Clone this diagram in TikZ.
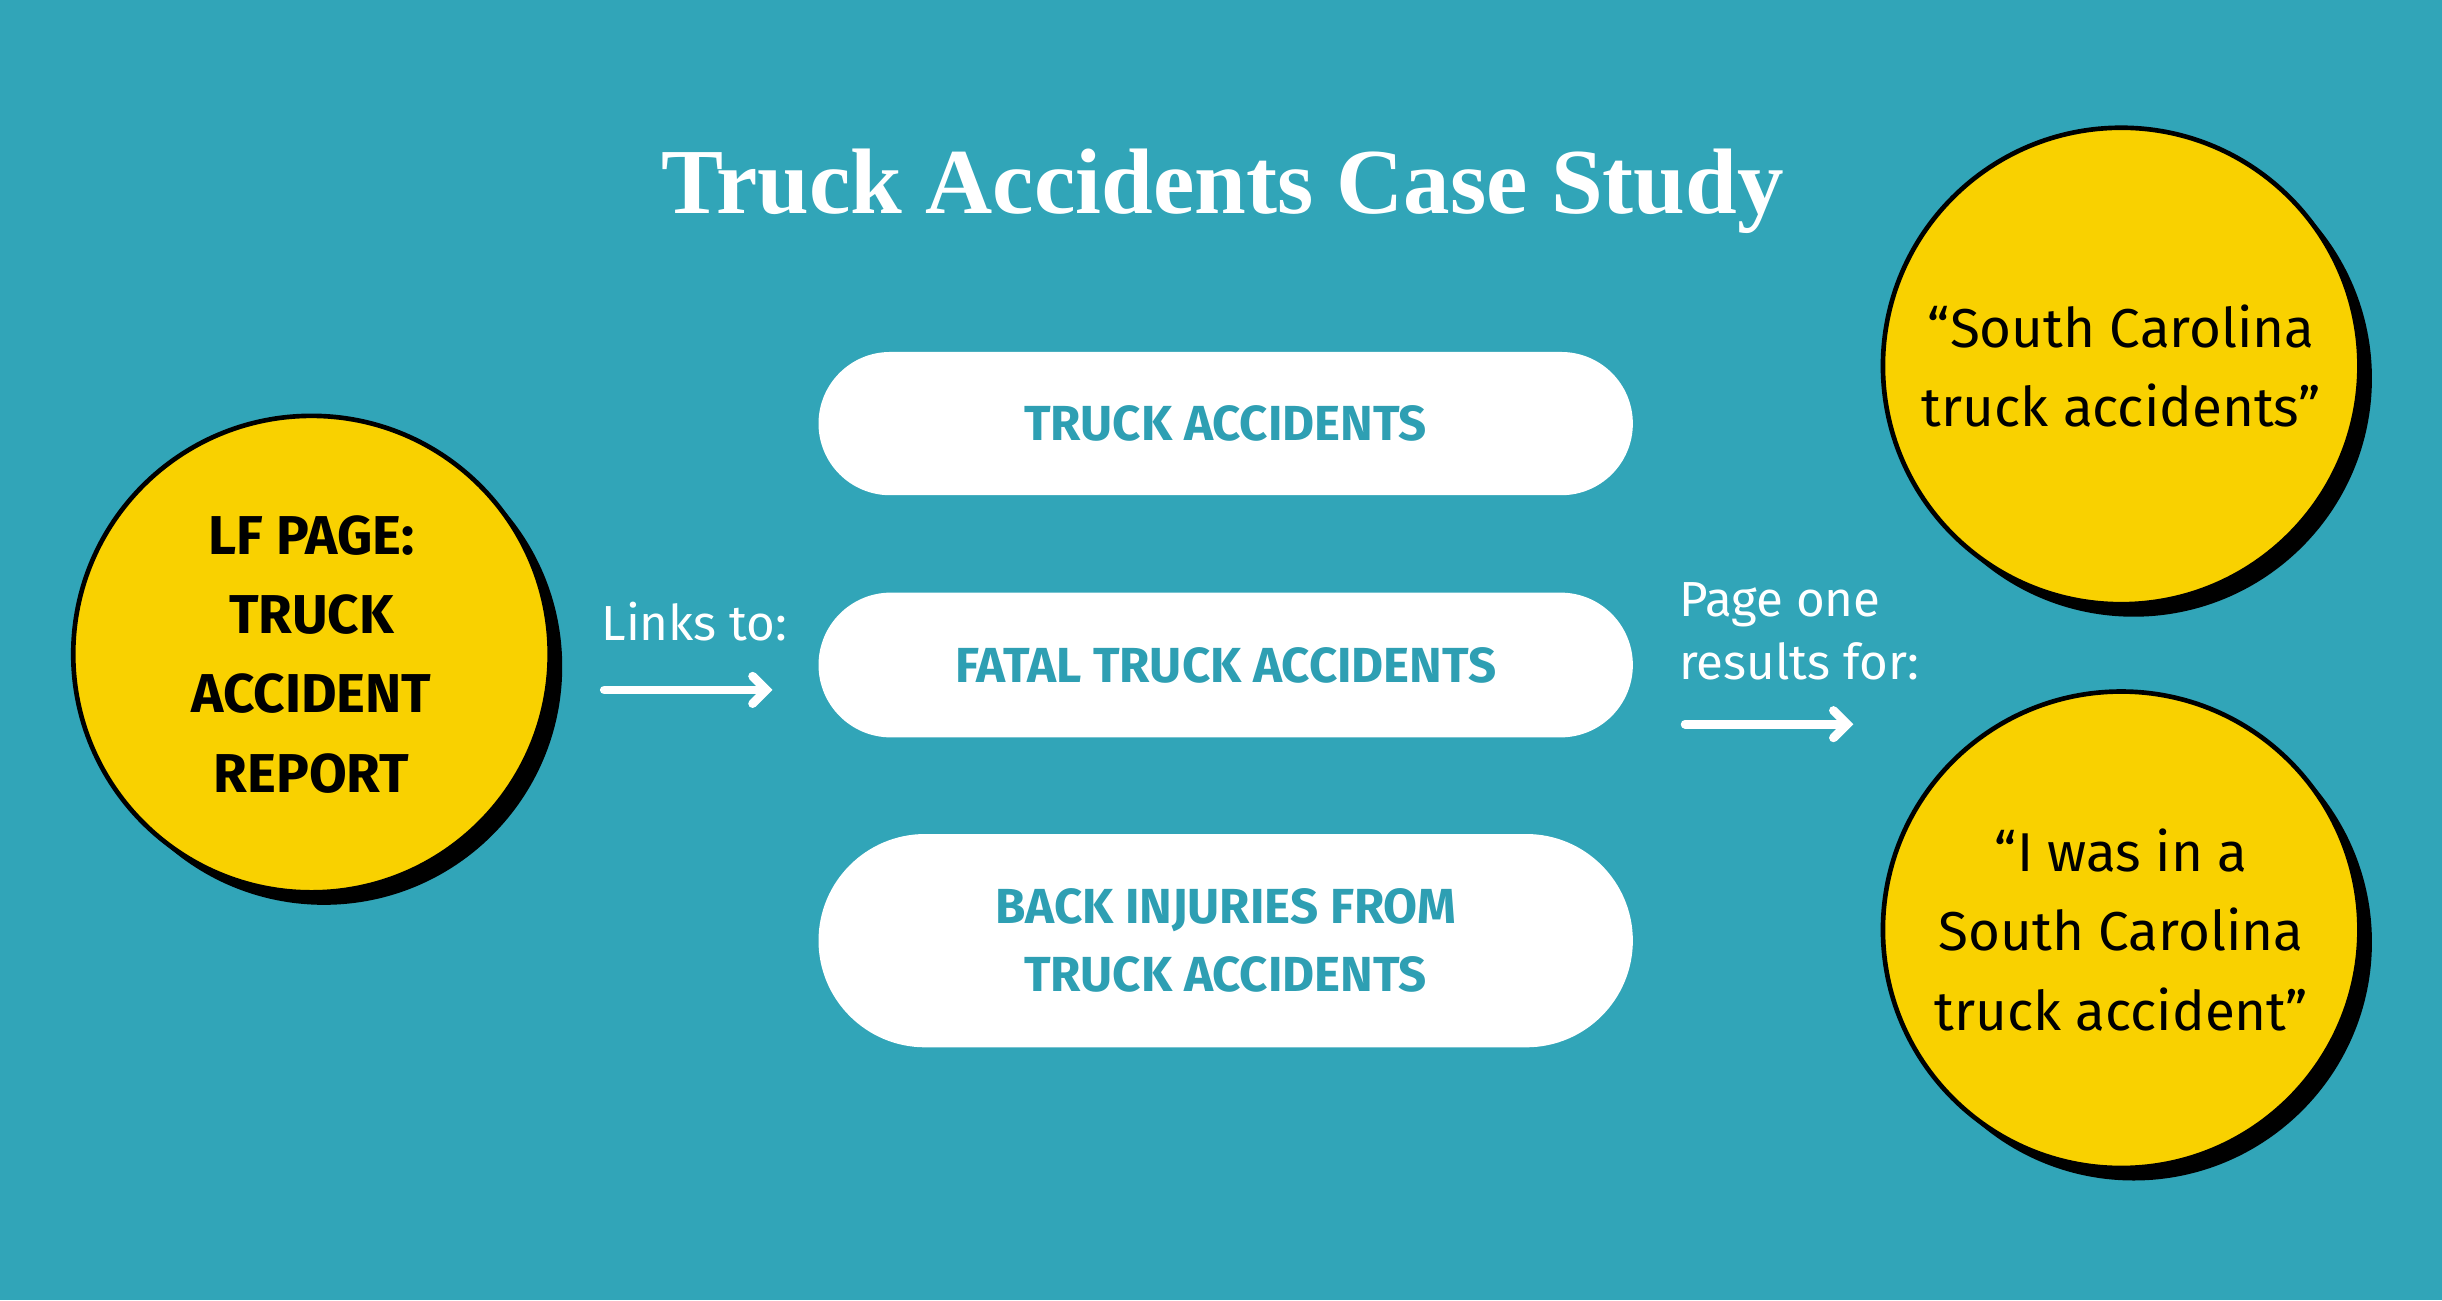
\documentclass[tikz,border=0pt]{standalone}
\usepackage{fontspec}
\setmainfont{Fira Sans}
\newfontfamily\titlefont{Liberation Serif}
\usetikzlibrary{positioning}
\definecolor{bgteal}{HTML}{31A5B8}
\definecolor{pilltext}{HTML}{2E9FB3}
\definecolor{bubble}{HTML}{F9D100}
\tikzset{
	bubblenode/.style={circle,fill=bubble,draw=black,line width=1.7pt,minimum size=6.12cm,align=center,inner sep=0pt},
	pillnode/.style={rounded corners=#1,fill=white,minimum width=10.46cm,align=center,text=pilltext,font=\fontsize{18}{25}\selectfont\bfseries},
	linkarrow/.style={white,line width=3.2pt,line cap=round,-{Straight Barb[length=5pt,width=10pt,line cap=round]}},
	notelabel/.style={white,font=\fontsize{18}{23}\selectfont,align=left}
}
\usetikzlibrary{arrows.meta}
\begin{document}
\begin{tikzpicture}[x=0.02cm,y=0.02cm]
	\fill [bgteal] (0,0) rectangle (1568,835);
	\node [white,font=\titlefont\fontsize{34}{40}\selectfont\bfseries] (title) at (785,712) {Truck Accidents Case Study};
	% shadows
	\fill (208,407) circle (153);
	\fill (1370,592) circle (153);
	\fill (1370,230) circle (153);
	% bubbles
	\node [bubblenode,font=\fontsize{20}{29}\selectfont\bfseries] (lfpage) at (200,415) {LF PAGE:\\TRUCK\\ACCIDENT\\REPORT};
	\node [bubblenode,font=\fontsize{20}{29}\selectfont] (query1) at (1362,600) {``South Carolina\\truck accidents''};
	\node [bubblenode,font=\fontsize{20}{29}\selectfont] (query2) at (1362,238) {``I was in a\\South Carolina\\truck accident''};
	% pills
	\node [pillnode=0.92cm,minimum height=1.84cm] (truck) at (787,563) {TRUCK ACCIDENTS};
	\node [pillnode=0.93cm,minimum height=1.86cm] (fatal) at (787,408) {FATAL TRUCK ACCIDENTS};
	\node [pillnode=1.37cm,minimum height=2.74cm] (back) at (787,231) {BACK INJURIES FROM\\TRUCK ACCIDENTS};
	% arrows and notes
	\coordinate (linkstart) at (388,392);
	\coordinate (linkend) at (496,392);
	\draw [linkarrow] (linkstart) -- (linkend);
	\node [notelabel,anchor=south west] (linksto) at (380,417) {Links to:};
	\coordinate (pagestart) at (1082,370);
	\coordinate (pageend) at (1190,370);
	\draw [linkarrow] (pagestart) -- (pageend);
	\node [notelabel,anchor=south west] (pageone) at (1072,392) {Page one\\results for:};
\end{tikzpicture}
\end{document}
